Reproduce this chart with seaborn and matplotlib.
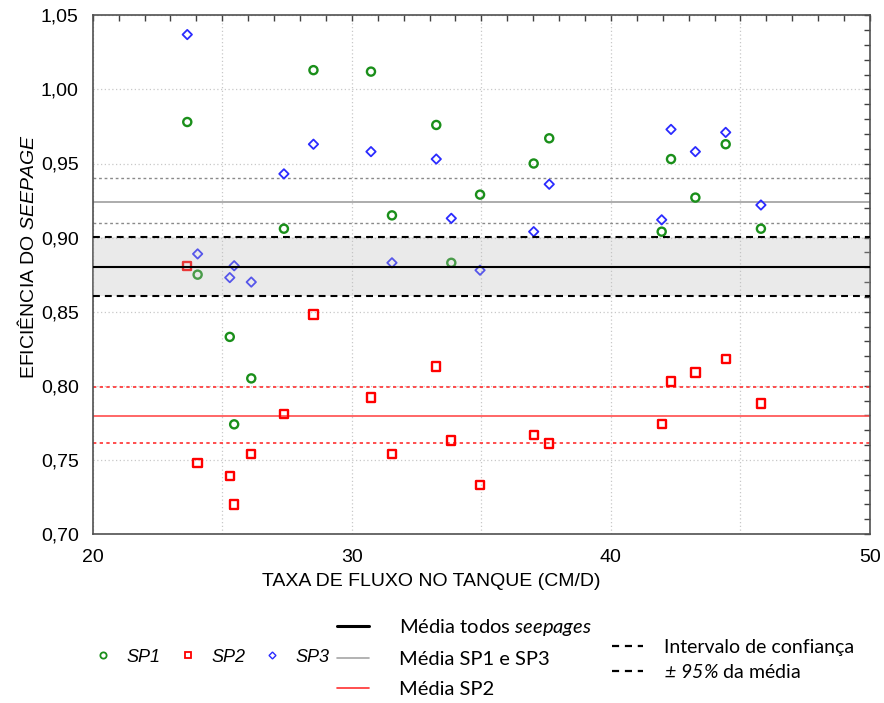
import numpy as np
import pandas as pd
import matplotlib
matplotlib.use("Agg")
import matplotlib.pyplot as plt
import seaborn as sns
from matplotlib.lines import Line2D
from matplotlib.ticker import MultipleLocator, FuncFormatter

# ---------------- data ----------------
flow = [23.65, 24.05, 25.29, 25.46, 26.12, 27.38, 28.52, 30.74, 31.55, 33.26,
        33.84, 34.95, 37.02, 37.62, 41.96, 42.32, 43.26, 44.43, 45.79]
sp1 = [0.978, 0.875, 0.833, 0.774, 0.805, 0.906, 1.013, 1.012, 0.915, 0.976,
       0.883, 0.929, 0.950, 0.967, 0.904, 0.953, 0.927, 0.963, 0.906]
sp2 = [0.881, 0.748, 0.739, 0.720, 0.754, 0.781, 0.848, 0.792, 0.754, 0.813,
       0.763, 0.733, 0.767, 0.761, 0.774, 0.803, 0.809, 0.818, 0.788]
sp3 = [1.037, 0.889, 0.873, 0.881, 0.870, 0.943, 0.963, 0.958, 0.883, 0.953,
       0.913, 0.878, 0.904, 0.936, 0.912, 0.973, 0.958, 0.971, 0.922]

mean_all, ci_all = 0.880, (0.8606, 0.9004)
mean_sp13, ci_sp13 = 0.924, (0.910, 0.940)
mean_sp2, ci_sp2 = 0.7794, (0.7616, 0.7994)

series_labels = ["SP1", "SP2", "SP3"]
xlabel = "TAXA DE FLUXO NO TANQUE (CM/D)"
ylabel = "EFICIÊNCIA DO $\\mathsf{SEEPAGE}$"

# ---------------- style ----------------
sns.set_theme(style="white")
plt.rcParams["font.family"] = ["Liberation Sans", "DejaVu Sans"]
plt.rcParams["mathtext.fontset"] = "custom"
plt.rcParams["mathtext.sf"] = "Liberation Sans:italic"
plt.rcParams["mathtext.it"] = "Lato:italic"
plt.rcParams["mathtext.bf"] = "Lato:italic"
plt.rcParams["mathtext.rm"] = "Lato"
for k in ["text.color", "axes.labelcolor", "xtick.labelcolor", "ytick.labelcolor"]:
    plt.rcParams[k] = "black"

fig = plt.figure(figsize=(8.84, 7.03), dpi=100)
ax = fig.add_axes([92.7 / 884, 1 - 534 / 703, (870 - 92.7) / 884, (534 - 15.3) / 703])

green, red, blue = "#1a8f1a", "#ff0000", "#2b2bff"

df = pd.DataFrame({"flow": flow, "SP1": sp1, "SP2": sp2, "SP3": sp3})

# reference lines
ax.axhline(mean_sp13, color="#a6a6a6", lw=1.3, zorder=2)
for v in ci_sp13:
    ax.axhline(v, color="#8a8a8a", lw=1.0, ls=(0, (2, 2)), zorder=2)
ax.axhline(mean_sp2, color="#ff4d4d", lw=1.2, zorder=2)
for v in ci_sp2:
    ax.axhline(v, color="#ff3030", lw=1.2, ls=(0, (2, 2)), zorder=2)

# points
sns.scatterplot(data=df, x="flow", y="SP1", ax=ax, marker="o", s=34,
                facecolor="none", edgecolor=green, linewidth=1.7, zorder=3)
sns.scatterplot(data=df, x="flow", y="SP2", ax=ax, marker="s", s=36,
                facecolor="none", edgecolor=red, linewidth=1.7, zorder=3)
sns.scatterplot(data=df, x="flow", y="SP3", ax=ax, marker="D", s=23,
                facecolor="none", edgecolor=blue, linewidth=1.3, zorder=3)

# confidence band of overall mean (drawn above points, translucent)
ax.axhspan(ci_all[0], ci_all[1], color="#bbbbbb", alpha=0.3, lw=0, zorder=4)
ax.axhline(mean_all, color="black", lw=1.5, zorder=5)
for v in ci_all:
    ax.axhline(v, color="black", lw=1.5, ls=(0, (3.3, 2.4)), zorder=5)

# axes
ax.set_xlim(20, 50)
ax.set_ylim(0.70, 1.05)
ax.xaxis.set_major_locator(MultipleLocator(5))
ax.xaxis.set_minor_locator(MultipleLocator(1))
ax.yaxis.set_major_locator(MultipleLocator(0.05))
ax.yaxis.set_minor_locator(MultipleLocator(0.01))
ax.xaxis.set_major_formatter(FuncFormatter(lambda v, p: f"{v:.0f}" if abs(v % 10) < 1e-6 else ""))
ax.yaxis.set_major_formatter(FuncFormatter(lambda v, p: f"{v:.2f}".replace(".", ",")))
ax.tick_params(which="both", direction="in", top=True, right=True, color="#404040",
               width=1.0, labelsize=14, labelcolor="black")
ax.tick_params(which="major", length=4)
ax.tick_params(which="minor", length=4)
ax.tick_params(axis="y", which="major", pad=10)
ax.tick_params(axis="x", which="major", pad=11)
ax.grid(True, which="major", color="#c8c8c8", ls=(0, (1, 2)), lw=0.9, zorder=1)
for sp in ax.spines.values():
    sp.set_color("#505050")
    sp.set_linewidth(1.2)

ax.set_xlabel(xlabel, fontsize=14, color="black")
ax.set_ylabel(ylabel, fontsize=14, color="black")
ax.xaxis.set_label_coords((431 - 92.7) / 777.3, (534 - 573) / 518.7)
ax.yaxis.set_label_coords((38 - 92.7) / 777.3, (534 - 257) / 518.7)

# ---------------- legends ----------------
h_pts = [Line2D([], [], ls="none", marker="o", ms=4.5, mfc="none", mec=green, mew=1.3),
         Line2D([], [], ls="none", marker="s", ms=4.5, mfc="none", mec=red, mew=1.3),
         Line2D([], [], ls="none", marker="D", ms=3.5, mfc="none", mec=blue, mew=1.0)]
leg1 = fig.legend(h_pts, series_labels, loc="center left", bbox_to_anchor=(94 / 884, 1 - 657 / 703),
                  ncol=3, frameon=False, borderpad=0, borderaxespad=0, handlelength=1.0,
                  handletextpad=0.8, columnspacing=1.0,
                  prop={"family": "Liberation Sans", "style": "italic", "size": 13})

h_lines = [Line2D([], [], color="black", lw=2.2),
           Line2D([], [], color="#a6a6a6", lw=1.2),
           Line2D([], [], color="#ff3030", lw=1.2)]
lab_lines = ["Média todos $\\mathit{seepages}$", "Média SP1 e SP3", "Média SP2"]
leg2 = fig.legend(h_lines, lab_lines, loc="center left", bbox_to_anchor=(337 / 884, 1 - 657.5 / 703),
                  frameon=False, borderpad=0, borderaxespad=0, handlelength=1.6, handletextpad=1.5,
                  labelspacing=0.65, prop={"family": "Lato", "size": 14.5})

h_ci = [Line2D([], [], color="black", lw=1.6, ls=(0, (3.2, 2.6))),
        Line2D([], [], color="black", lw=1.6, ls=(0, (3.2, 2.6)))]
lab_ci = ["Intervalo de confiança", "$\\mathbf{±\\ 95\\%}$ da média"]
leg3 = fig.legend(h_ci, lab_ci, loc="center left", bbox_to_anchor=(612 / 884, 1 - 660 / 703),
                  frameon=False, borderpad=0, borderaxespad=0, handlelength=1.6, handletextpad=1.1,
                  labelspacing=0.35, prop={"family": "Lato", "size": 14})

fig.savefig("out.png", dpi=100)
